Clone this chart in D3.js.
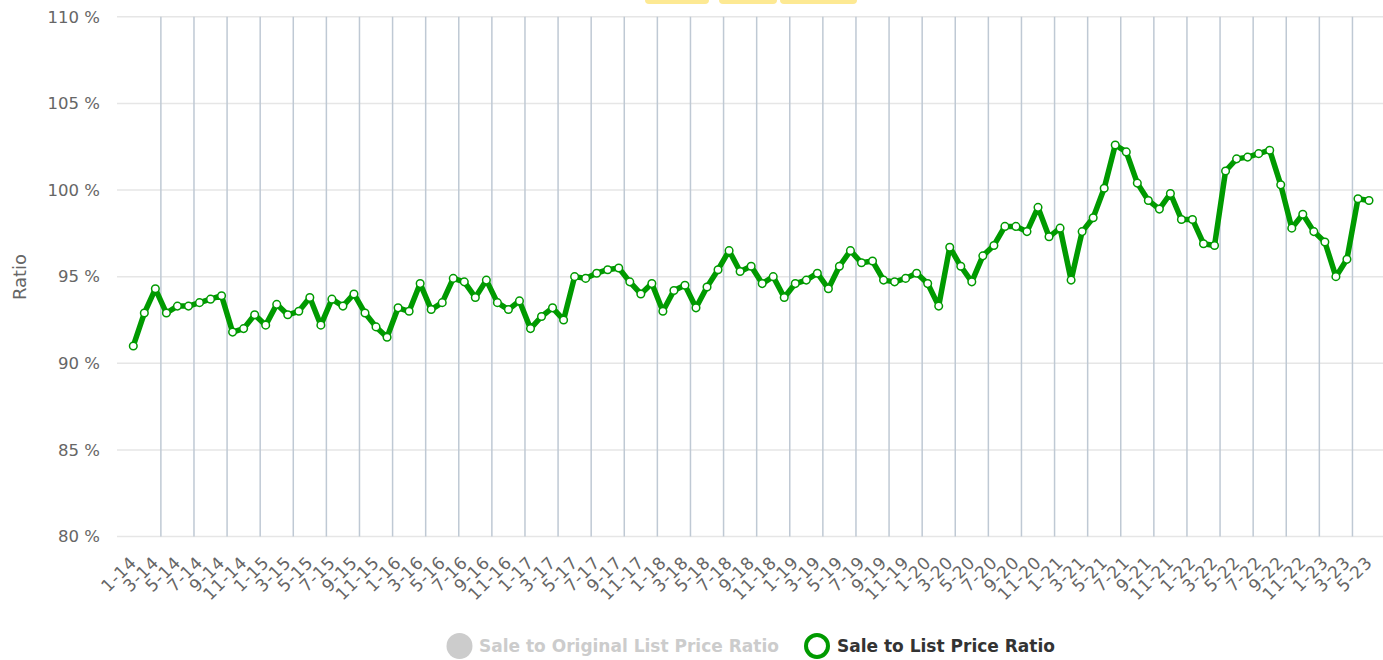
<!DOCTYPE html>
<html lang="en">
<head>
  <meta charset="UTF-8" />
  <title>Sale to List Price Ratio</title>
  <style>
    body { margin: 0; background: #fff; }
    svg { display: block; font-family: "Lucida Grande", "DejaVu Sans", sans-serif; }
  </style>
</head>
<body>
<div id="chart"></div>
<script src="https://cdn.jsdelivr.net/npm/d3@7"></script>
<script>
// months as shown on the x axis (m-yy)
var months = [
  "1-14","2-14","3-14","4-14","5-14","6-14","7-14","8-14","9-14","10-14","11-14","12-14",
  "1-15","2-15","3-15","4-15","5-15","6-15","7-15","8-15","9-15","10-15","11-15","12-15",
  "1-16","2-16","3-16","4-16","5-16","6-16","7-16","8-16","9-16","10-16","11-16","12-16",
  "1-17","2-17","3-17","4-17","5-17","6-17","7-17","8-17","9-17","10-17","11-17","12-17",
  "1-18","2-18","3-18","4-18","5-18","6-18","7-18","8-18","9-18","10-18","11-18","12-18",
  "1-19","2-19","3-19","4-19","5-19","6-19","7-19","8-19","9-19","10-19","11-19","12-19",
  "1-20","2-20","3-20","4-20","5-20","6-20","7-20","8-20","9-20","10-20","11-20","12-20",
  "1-21","2-21","3-21","4-21","5-21","6-21","7-21","8-21","9-21","10-21","11-21","12-21",
  "1-22","2-22","3-22","4-22","5-22","6-22","7-22","8-22","9-22","10-22","11-22","12-22",
  "1-23","2-23","3-23","4-23","5-23"
];

// sale to list price ratio, percent
var saleToList = [
  91.0, 92.9, 94.3, 92.9, 93.3, 93.3, 93.5, 93.7, 93.9, 91.8,
  92.0, 92.8, 92.2, 93.4, 92.8, 93.0, 93.8, 92.2, 93.7, 93.3,
  94.0, 92.9, 92.1, 91.5, 93.2, 93.0, 94.6, 93.1, 93.5, 94.9,
  94.7, 93.8, 94.8, 93.5, 93.1, 93.6, 92.0, 92.7, 93.2, 92.5,
  95.0, 94.9, 95.2, 95.4, 95.5, 94.7, 94.0, 94.6, 93.0, 94.2,
  94.5, 93.2, 94.4, 95.4, 96.5, 95.3, 95.6, 94.6, 95.0, 93.8,
  94.6, 94.8, 95.2, 94.3, 95.6, 96.5, 95.8, 95.9, 94.8, 94.7,
  94.9, 95.2, 94.6, 93.3, 96.7, 95.6, 94.7, 96.2, 96.8, 97.9,
  97.9, 97.6, 99.0, 97.3, 97.8, 94.8, 97.6, 98.4, 100.1, 102.6,
  102.2, 100.4, 99.4, 98.9, 99.8, 98.3, 98.3, 96.9, 96.8, 101.1,
  101.8, 101.9, 102.1, 102.3, 100.3, 97.8, 98.6, 97.6, 97.0, 95.0,
  96.0, 99.5, 99.4
];

var yTicks = [80, 85, 90, 95, 100, 105, 110];
var seriesNames = ["Sale to Original List Price Ratio", "Sale to List Price Ratio"];

var w = 1383, h = 660;
var green = "#009a00";

var svg = d3.select("#chart")
            .append("svg")
            .attr("width", w)
            .attr("height", h);

// half-cut buttons peeking in at the top
[[645, 64], [719, 58], [780, 77]].forEach(function(b) {
  svg.append("rect")
     .attr("x", b[0]).attr("y", -8)
     .attr("width", b[1]).attr("height", 12)
     .attr("rx", 4)
     .style("fill", "#fde993");
});

var xScale = d3.scalePoint()
               .domain(months)
               .range([133.3, 1369]);

var yScale = d3.scaleLinear()
               .domain([80, 110])
               .range([536.5, 16.8]);

// horizontal grid
svg.append("g")
   .selectAll("line")
   .data(yTicks)
   .enter()
   .append("line")
   .attr("x1", 117).attr("x2", w)
   .attr("y1", function(d) { return yScale(d); })
   .attr("y2", function(d) { return yScale(d); })
   .style("stroke", "#e6e6e6")
   .style("stroke-width", 1.5);

// quarter lines between categories (every 3rd month)
var step = xScale.step();
var quarterCats = months.filter(function(d, i) { return i % 3 == 2 && i < months.length - 1; });
svg.append("g")
   .selectAll("line")
   .data(quarterCats)
   .enter()
   .append("line")
   .attr("x1", function(d) { return xScale(d) + step / 2; })
   .attr("x2", function(d) { return xScale(d) + step / 2; })
   .attr("y1", yScale(110))
   .attr("y2", yScale(80))
   .style("stroke", "#bfc9d4")
   .style("stroke-width", 1.5);

// y axis labels
var yAxis = d3.axisLeft(yScale)
              .tickValues(yTicks)
              .tickSize(0)
              .tickPadding(0)
              .tickFormat(function(d) { return d + " %"; });
var yg = svg.append("g")
            .attr("transform", "translate(100,0)")
            .call(yAxis);
yg.select(".domain").remove();
yg.selectAll("text")
  .style("font-size", "16.5px")
  .style("fill", "#666")
  .style("font-family", "'Lucida Grande', 'DejaVu Sans', sans-serif");

svg.append("text")
   .attr("transform", "translate(26,277) rotate(-90)")
   .attr("text-anchor", "middle")
   .style("font-size", "18px")
   .style("fill", "#666")
   .text("Ratio");

// x axis labels, every second month
var xAxis = d3.axisBottom(xScale)
              .tickValues(months.filter(function(d, i) { return i % 2 == 0; }))
              .tickSize(0)
              .tickPadding(0);
var xg = svg.append("g")
            .attr("transform", "translate(0,536.5)")
            .call(xAxis);
xg.select(".domain").remove();
xg.selectAll("text")
  .attr("y", 0)
  .attr("dy", 0)
  .attr("transform", "translate(4,27) rotate(-45)")
  .attr("text-anchor", "end")
  .style("font-size", "17px")
  .style("letter-spacing", "0.8px")
  .style("fill", "#666")
  .style("font-family", "'Lucida Grande', 'DejaVu Sans', sans-serif");

// the line
var line = d3.line()
             .x(function(d, i) { return xScale(months[i]); })
             .y(function(d) { return yScale(d); });

svg.append("path")
   .datum(saleToList)
   .attr("d", line)
   .style("fill", "none")
   .style("stroke", green)
   .style("stroke-width", 5.5)
   .style("stroke-linejoin", "round");

svg.selectAll("circle.pt")
   .data(saleToList)
   .enter()
   .append("circle")
   .attr("class", "pt")
   .attr("cx", function(d, i) { return xScale(months[i]); })
   .attr("cy", function(d) { return yScale(d); })
   .attr("r", 3.8)
   .style("fill", "#fff")
   .style("stroke", green)
   .style("stroke-width", 1.5);

// legend
svg.append("circle")
   .attr("cx", 459.5).attr("cy", 646).attr("r", 13)
   .style("fill", "#cccccc");
svg.append("text")
   .attr("x", 479).attr("y", 652)
   .style("font-size", "17px")
   .style("font-weight", "bold")
   .style("fill", "#cccccc")
   .text(seriesNames[0]);

svg.append("circle")
   .attr("cx", 817).attr("cy", 646).attr("r", 11)
   .style("fill", "#fff")
   .style("stroke", green)
   .style("stroke-width", 4);
svg.append("text")
   .attr("x", 837).attr("y", 652)
   .style("font-size", "17px")
   .style("font-weight", "bold")
   .style("fill", "#333")
   .text(seriesNames[1]);
</script>
</body>
</html>
